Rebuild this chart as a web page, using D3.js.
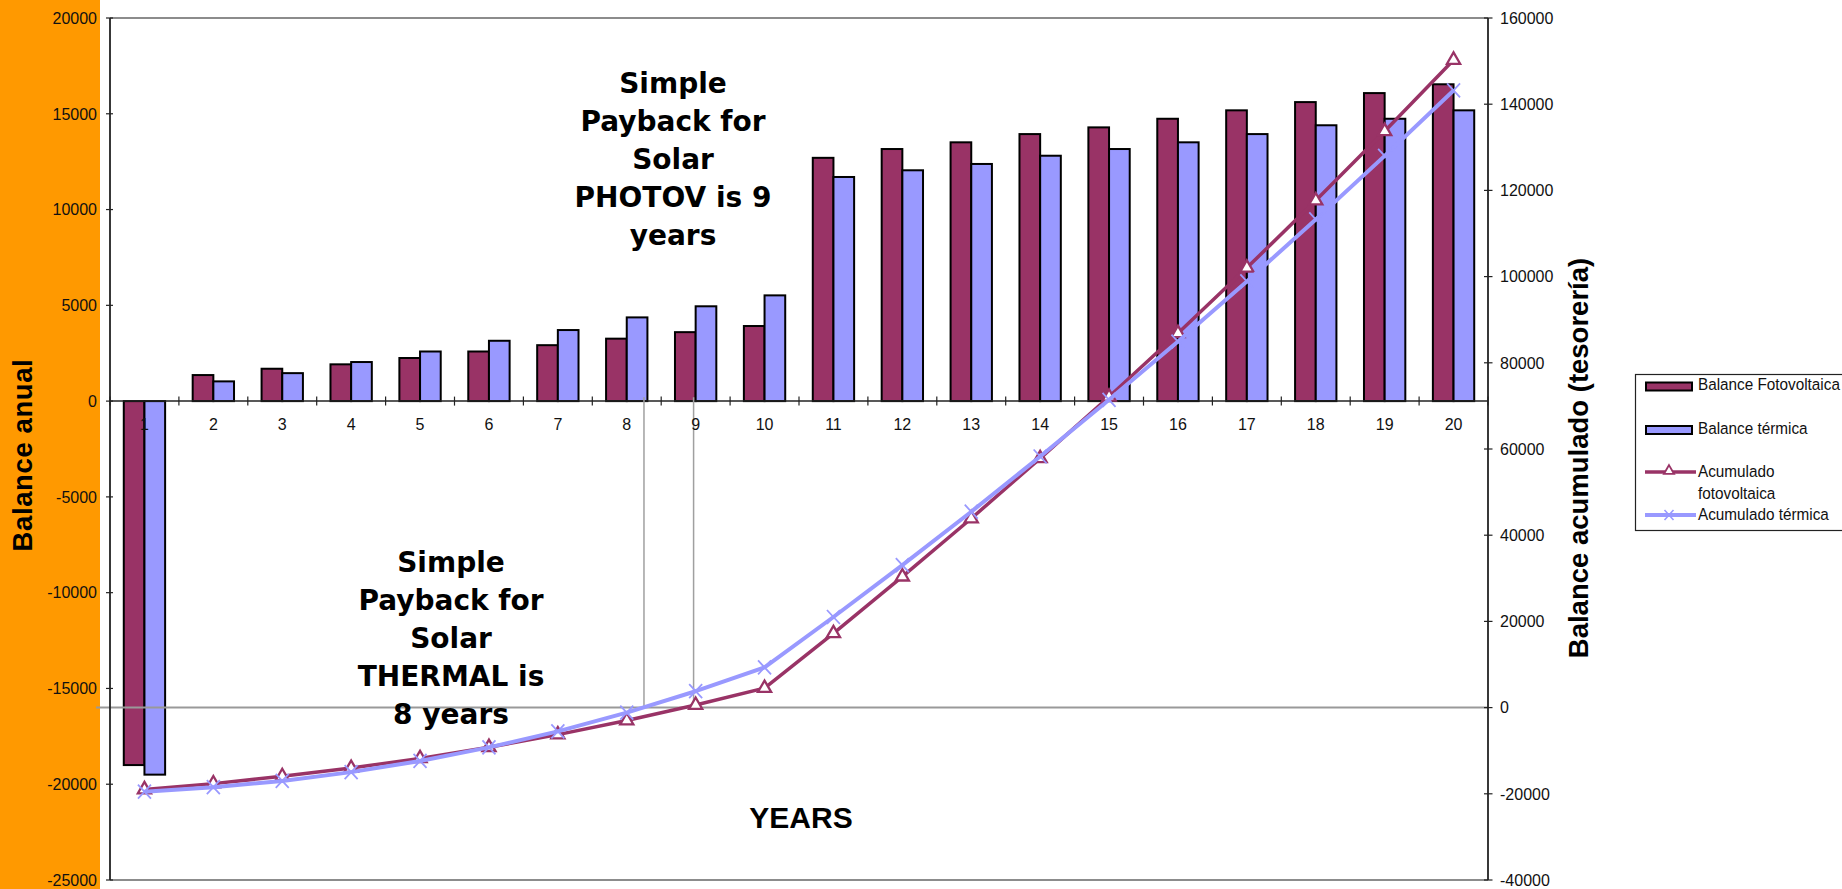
<!DOCTYPE html>
<html>
<head>
<meta charset="utf-8">
<title>Balance anual y acumulado</title>
<script src="https://cdn.jsdelivr.net/npm/d3@7"></script>
<style>
  html, body { margin: 0; padding: 0; background: #ffffff; overflow: hidden; }
  svg { display: block; }
</style>
</head>
<body>
<svg id="chart" width="1842" height="889"></svg>
<script>
// ---- data -----------------------------------------------------------------
const years = [1, 2, 3, 4, 5, 6, 7, 8, 9, 10, 11, 12, 13, 14, 15, 16, 17, 18, 19, 20];

// yearly balance (left axis)
const balanceFotovoltaica = [-19000, 1360, 1690, 1920, 2250, 2590, 2920, 3260, 3600, 3920,
                             12700, 13160, 13510, 13940, 14290, 14740, 15180, 15610, 16080, 16540];
const balanceTermica = [-19500, 1030, 1460, 2040, 2590, 3150, 3710, 4370, 4950, 5520,
                        11700, 12050, 12380, 12810, 13160, 13510, 13940, 14400, 14740, 15180];

// accumulated balance (right axis)
const acumuladoFotovoltaica = [-19000, -17640, -15950, -14030, -11780, -9190, -6270, -3010, 590, 4510,
                               17210, 30370, 43880, 57820, 72110, 86850, 102030, 117640, 133720, 150260];
const acumuladoTermica = [-19500, -18470, -17010, -14970, -12380, -9230, -5520, -1150, 3800, 9320,
                          21020, 33070, 45450, 58260, 71420, 84930, 98870, 113270, 128010, 143190];

const leftTicks = [20000, 15000, 10000, 5000, 0, -5000, -10000, -15000, -20000, -25000];
const rightTicks = [160000, 140000, 120000, 100000, 80000, 60000, 40000, 20000, 0, -20000, -40000];

const seriesNames = ["Balance Fotovoltaica", "Balance térmica", "Acumulado fotovoltaica", "Acumulado térmica"];

// payback points (year where the accumulated balance crosses zero)
const paybackThermal = 8.25;
const paybackPhotov = 8.97;

// ---- layout & colours -----------------------------------------------------
const W = 1842, H = 889;
const plot = { left: 110, right: 1488, top: 18, bottom: 880 };
const PURPLE = "#993366", LILAC = "#9999FF", ORANGE = "#FF9900";
const SANS = "'Liberation Sans', Arial, sans-serif";
const WIDE = "'DejaVu Sans', Verdana, sans-serif";

const svg = d3.select("#chart");

// ---- scales ---------------------------------------------------------------
const x = d3.scaleBand().domain(years).range([plot.left, plot.right]).padding(0);
const bw = x.bandwidth();
const xPos = d3.scaleLinear().domain([0.5, years.length + 0.5]).range([plot.left, plot.right]);
const barW = bw * 0.3;
const sub = d3.scaleBand().domain(["foto", "term"]).range([-barW, barW]).padding(0);
const yL = d3.scaleLinear().domain([-25000, 20000]).range([plot.bottom, plot.top]);
const yR = d3.scaleLinear().domain([-40000, 160000]).range([plot.bottom, plot.top]);

// ---- orange band on the left ------------------------------------------------
svg.append("rect").attr("x", 0).attr("y", 0).attr("width", 100).attr("height", H).attr("fill", ORANGE);

// ---- plot frame (top / bottom) -----------------------------------------------
svg.append("line").attr("x1", plot.left).attr("x2", plot.right).attr("y1", plot.top).attr("y2", plot.top)
  .attr("stroke", "#8c8c8c").attr("stroke-width", 2);
svg.append("line").attr("x1", plot.left).attr("x2", plot.right).attr("y1", plot.bottom).attr("y2", plot.bottom)
  .attr("stroke", "#8c8c8c").attr("stroke-width", 2);

// ---- bars -------------------------------------------------------------------
const barSeries = [
  { key: "foto", values: balanceFotovoltaica, color: PURPLE },
  { key: "term", values: balanceTermica, color: LILAC }
];
const barLayer = svg.append("g");
barSeries.forEach(s => {
  barLayer.selectAll(null)
    .data(years.map((yr, i) => ({ yr, v: s.values[i] })))
    .join("rect")
    .attr("x", d => x(d.yr) + bw / 2 + sub(s.key))
    .attr("y", d => Math.min(yL(d.v), yL(0)))
    .attr("width", sub.bandwidth())
    .attr("height", d => Math.abs(yL(d.v) - yL(0)))
    .attr("fill", s.color)
    .attr("stroke", "#000")
    .attr("stroke-width", 2);
});

// ---- category axis at zero ---------------------------------------------------
const catAxis = svg.append("g");
catAxis.append("line").attr("x1", plot.left).attr("x2", plot.right).attr("y1", yL(0)).attr("y2", yL(0))
  .attr("stroke", "#222").attr("stroke-width", 1.5);
catAxis.selectAll(".ct").data(d3.range(years.length + 1)).join("line")
  .attr("x1", i => plot.left + i * bw).attr("x2", i => plot.left + i * bw)
  .attr("y1", yL(0) - 4.5).attr("y2", yL(0) + 4.5)
  .attr("stroke", "#222").attr("stroke-width", 1.2);

// ---- reference lines (accumulated zero, payback years) -------------------------
svg.append("line").attr("x1", 96).attr("x2", plot.right).attr("y1", yR(0)).attr("y2", yR(0))
  .attr("stroke", "#999").attr("stroke-width", 2);
[paybackThermal, paybackPhotov].forEach(p => {
  svg.append("line").attr("x1", xPos(p)).attr("x2", xPos(p))
    .attr("y1", yL(200)).attr("y2", yR(0))
    .attr("stroke", "#a0a0a0").attr("stroke-width", 1.5);
});

// ---- accumulated lines ---------------------------------------------------------
const line = d3.line().x(d => xPos(d.yr)).y(d => yR(d.v));
const triangle = d3.symbol().type(d3.symbolTriangle).size(75);
const cross = "M-6.5,-7L6.5,7M-6.5,7L6.5,-7";

const lineLayer = svg.append("g");
const fotoPts = years.map((yr, i) => ({ yr, v: acumuladoFotovoltaica[i] }));
const termPts = years.map((yr, i) => ({ yr, v: acumuladoTermica[i] }));

lineLayer.append("path").datum(fotoPts).attr("d", line)
  .attr("fill", "none").attr("stroke", PURPLE).attr("stroke-width", 3.5).attr("stroke-linejoin", "round");
lineLayer.selectAll(".tri").data(fotoPts).join("path")
  .attr("d", triangle)
  .attr("transform", d => `translate(${xPos(d.yr)},${yR(d.v)})`)
  .attr("fill", "#fff").attr("stroke", PURPLE).attr("stroke-width", 2.3);

lineLayer.append("path").datum(termPts).attr("d", line)
  .attr("fill", "none").attr("stroke", LILAC).attr("stroke-width", 4).attr("stroke-linejoin", "round");
lineLayer.selectAll(".crs").data(termPts).join("path")
  .attr("d", cross)
  .attr("transform", d => `translate(${xPos(d.yr)},${yR(d.v)})`)
  .attr("fill", "none").attr("stroke", LILAC).attr("stroke-width", 1.8);

// ---- category labels -------------------------------------------------------------
svg.append("g").selectAll("text").data(years).join("text")
  .attr("x", d => x(d) + bw / 2)
  .attr("y", yL(0) + 29)
  .attr("text-anchor", "middle")
  .attr("font-family", SANS).attr("font-size", 16).attr("fill", "#111")
  .text(d => d);

// ---- left axis ---------------------------------------------------------------------
const leftAxis = svg.append("g");
leftAxis.append("line").attr("x1", plot.left).attr("x2", plot.left).attr("y1", plot.top).attr("y2", plot.bottom)
  .attr("stroke", "#222").attr("stroke-width", 1.8);
leftAxis.selectAll(".lt").data(leftTicks).join("line")
  .attr("x1", plot.left - 4).attr("x2", plot.left + 3)
  .attr("y1", d => yL(d)).attr("y2", d => yL(d))
  .attr("stroke", "#222").attr("stroke-width", 1.2);
leftAxis.selectAll(".ll").data(leftTicks).join("text")
  .attr("x", plot.left - 13).attr("y", d => yL(d)).attr("dy", "0.36em")
  .attr("text-anchor", "end")
  .attr("font-family", SANS).attr("font-size", 16).attr("fill", "#111")
  .text(d => d);

// ---- right axis ----------------------------------------------------------------------
const rightAxis = svg.append("g");
rightAxis.append("line").attr("x1", plot.right).attr("x2", plot.right).attr("y1", plot.top).attr("y2", plot.bottom)
  .attr("stroke", "#222").attr("stroke-width", 1.8);
rightAxis.selectAll(".rt").data(rightTicks).join("line")
  .attr("x1", plot.right - 4).attr("x2", plot.right + 4.5)
  .attr("y1", d => yR(d)).attr("y2", d => yR(d))
  .attr("stroke", "#222").attr("stroke-width", 1.2);
rightAxis.selectAll(".rl").data(rightTicks).join("text")
  .attr("x", plot.right + 12).attr("y", d => yR(d)).attr("dy", "0.36em")
  .attr("text-anchor", "start")
  .attr("font-family", SANS).attr("font-size", 16).attr("fill", "#111")
  .text(d => d);

// ---- axis titles -----------------------------------------------------------------------
svg.append("text")
  .attr("transform", "translate(32,455) rotate(-90)")
  .attr("text-anchor", "middle")
  .attr("font-family", SANS).attr("font-weight", "bold").attr("font-size", 27.5).attr("fill", "#000")
  .attr("letter-spacing", 0.6)
  .text("Balance anual");
svg.append("text")
  .attr("transform", "translate(1588,458) rotate(-90)")
  .attr("text-anchor", "middle")
  .attr("font-family", SANS).attr("font-weight", "bold").attr("font-size", 27.5).attr("fill", "#000")
  .text("Balance acumulado (tesorería)");
svg.append("text")
  .attr("x", 801).attr("y", 828)
  .attr("text-anchor", "middle")
  .attr("font-family", SANS).attr("font-weight", "bold").attr("font-size", 30).attr("fill", "#000")
  .text("YEARS");

// ---- payback annotations -----------------------------------------------------------------
function note(cx, firstBaseline, lines) {
  const t = svg.append("text")
    .attr("text-anchor", "middle")
    .attr("font-family", WIDE).attr("font-weight", "bold").attr("font-size", 28).attr("fill", "#000");
  lines.forEach((s, i) => {
    t.append("tspan").attr("x", cx).attr("y", firstBaseline + i * 38).text(s);
  });
}
note(673, 93, ["Simple", "Payback for", "Solar", "PHOTOV is 9", "years"]);
note(451, 572, ["Simple", "Payback for", "Solar", "THERMAL is", "8 years"]);

// ---- legend ---------------------------------------------------------------------------------
const lg = svg.append("g");
lg.append("rect").attr("x", 1635.5).attr("y", 374.5).attr("width", 230).attr("height", 156)
  .attr("fill", "#fff").attr("stroke", "#222").attr("stroke-width", 1.2);

function legendText(y, lines) {
  lines.forEach((s, i) => {
    lg.append("text")
      .attr("transform", `translate(1698,${y + i * 22}) scale(0.9,1)`)
      .attr("font-family", SANS).attr("font-size", 17).attr("fill", "#111")
      .text(s);
  });
}
// bar swatches
[[PURPLE, 382.5], [LILAC, 426]].forEach(([c, y]) => {
  lg.append("rect").attr("x", 1646).attr("y", y).attr("width", 46).attr("height", 8)
    .attr("fill", c).attr("stroke", "#000").attr("stroke-width", 2);
});
legendText(390, [seriesNames[0]]);
legendText(434, [seriesNames[1]]);
// line swatches
lg.append("line").attr("x1", 1645).attr("x2", 1696).attr("y1", 472).attr("y2", 472)
  .attr("stroke", PURPLE).attr("stroke-width", 3.5);
lg.append("path").attr("d", d3.symbol().type(d3.symbolTriangle).size(45))
  .attr("transform", "translate(1669,471)")
  .attr("fill", "#fff").attr("stroke", PURPLE).attr("stroke-width", 1.8);
legendText(477, ["Acumulado", "fotovoltaica"]);
lg.append("line").attr("x1", 1645).attr("x2", 1696).attr("y1", 515).attr("y2", 515)
  .attr("stroke", LILAC).attr("stroke-width", 4);
lg.append("path").attr("d", "M-4.5,-5L4.5,5M-4.5,5L4.5,-5")
  .attr("transform", "translate(1669,515)")
  .attr("fill", "none").attr("stroke", LILAC).attr("stroke-width", 1.6);
legendText(520, ["Acumulado térmica"]);
</script>
</body>
</html>
